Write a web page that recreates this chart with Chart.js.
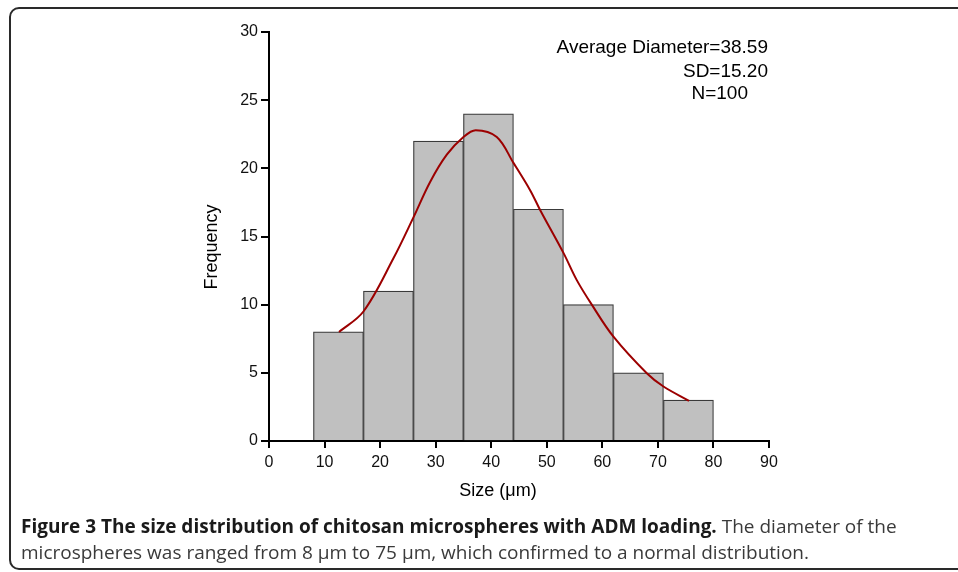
<!DOCTYPE html>
<html><head><meta charset="utf-8">
<script src="https://cdn.jsdelivr.net/npm/chart.js@4.4.1/dist/chart.umd.min.js"></script>
<style>
html,body{margin:0;padding:0;background:#fff;width:958px;height:572px;overflow:hidden;}
#wrap{position:relative;width:958px;height:572px;}
#frame{position:absolute;left:9px;top:7px;width:990px;height:563px;border:2px solid #2a2a2a;border-radius:10px;box-sizing:border-box;}
canvas{position:absolute;left:0;top:0;}
#cap{position:absolute;left:21px;top:513px;font-family:'Open Sans',sans-serif;font-size:19px;line-height:26px;color:#3a3a3a;white-space:nowrap;}
#cap b{color:#1a1a1a;font-weight:700;}
</style></head>
<body><div id="wrap"><div id="frame"></div><canvas id="c" width="958" height="572"></canvas>
<div id="cap"><b>Figure 3 The size distribution of chitosan microspheres with ADM loading.</b> The diameter of the<br>microspheres was ranged from 8 μm to 75 μm, which confirmed to a normal distribution.</div></div>
<script>
// ---- data ----
const binEdges = [8, 17, 26, 35, 44, 53, 62, 71, 80];
const frequencies = [8, 11, 22, 24, 17, 10, 5, 3];
const curveX = [12.6, 17, 22.4, 26, 29, 32, 35, 37.2, 41, 44, 47, 48.8, 53, 55.4, 58.1, 62, 68, 71, 75.6];
const curveY = [8.0, 9.5, 13.4, 16.4, 19.0, 21.0, 22.3, 22.8, 22.3, 20.4, 18.4, 16.95, 13.8, 11.8, 10.0, 7.65, 4.97, 4.0, 2.95];
const xTickRange = [0, 90, 10];
const yTickRange = [0, 30, 5];
const statsLines = ['Average Diameter=38.59', 'SD=15.20', 'N=100'];
const xTitle = 'Size (μm)';
const yTitle = 'Frequency';

const FONT = "'Liberation Sans', Arial, sans-serif";
const barData = frequencies.map((f, i) => ({x: (binEdges[i] + binEdges[i + 1]) / 2, y: f}));
const lineData = curveX.map((x, i) => ({x: x, y: curveY[i]}));

const textPlugin = {
  id: 'texts',
  afterDraw(chart) {
    const ctx = chart.ctx;
    ctx.save();
    ctx.fillStyle = '#000';
    ctx.font = '19px ' + FONT;
    ctx.textBaseline = 'middle';
    ctx.textAlign = 'right';
    ctx.fillText(statsLines[0], 768, 48);
    ctx.fillText(statsLines[1], 768, 72);
    ctx.fillText(statsLines[2], 748, 94);
    ctx.font = '18px ' + FONT;
    ctx.textAlign = 'center';
    ctx.fillText(xTitle, 498, 491);
    ctx.translate(212, 247);
    ctx.rotate(-Math.PI / 2);
    ctx.fillText(yTitle, 0, 0);
    ctx.restore();
  }
};

new Chart(document.getElementById('c'), {
  type: 'bar',
  data: {
    datasets: [
      {type: 'line', data: lineData, borderColor: '#9c0000', borderWidth: 2, pointRadius: 0, tension: 0.35, fill: false, order: 0},
      {type: 'bar', data: barData, backgroundColor: '#c0c0c0', borderColor: '#3a3a3a', borderWidth: 1.2, borderSkipped: 'start', barPercentage: 1, categoryPercentage: 1, order: 1}
    ]
  },
  options: {
    responsive: false,
    animation: false,
    layout: {padding: {left: 190, top: 32, right: 189, bottom: 67}},
    plugins: {legend: {display: false}, tooltip: {enabled: false}},
    scales: {
      x: {
        type: 'linear', min: xTickRange[0], max: xTickRange[1], offset: false,
        ticks: {stepSize: xTickRange[2], autoSkip: false, maxRotation: 0, padding: 5, color: '#111', font: {family: FONT, size: 16}},
        grid: {display: true, drawOnChartArea: false, drawTicks: true, tickLength: 7, color: '#000', lineWidth: 2, offset: false},
        border: {display: true, color: '#000', width: 2},
        afterFit(s) { s.height = 64; }
      },
      y: {
        type: 'linear', min: yTickRange[0], max: yTickRange[1],
        ticks: {stepSize: yTickRange[2], padding: 3, color: '#111', font: {family: FONT, size: 16}},
        grid: {display: true, drawOnChartArea: false, drawTicks: true, tickLength: 8, color: '#000', lineWidth: 2},
        border: {display: true, color: '#000', width: 2},
        afterFit(s) { s.width = 79; }
      }
    }
  },
  plugins: [textPlugin]
});
</script>
</body></html>
